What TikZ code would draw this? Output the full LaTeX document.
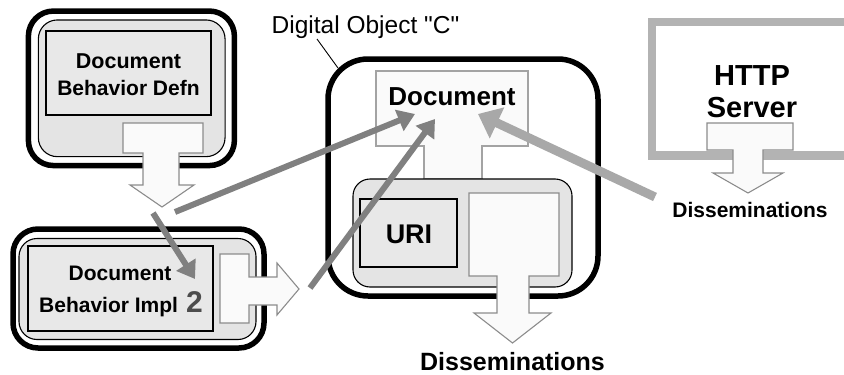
\documentclass[tikz,border=0pt]{standalone}
\usepackage{fontspec}
\setmainfont{Liberation Sans}
\usetikzlibrary{arrows.meta}
\definecolor{panelgray}{HTML}{E4E4E4}
\definecolor{labelgray}{HTML}{E8E8E8}
\definecolor{paper}{HTML}{FAFAFA}
\definecolor{outline}{HTML}{8C8C8C}
\definecolor{linkdark}{HTML}{808080}
\definecolor{linklight}{HTML}{A8A8A8}
\definecolor{servergray}{HTML}{B3B3B3}
\definecolor{digitgray}{HTML}{4D4D4D}

\begin{document}
\begin{tikzpicture}[x=1pt,y=-1pt,
  boxbase/.style={inner sep=0pt, outer sep=0pt},
  ring/.style={boxbase, draw=black, line width=5.5pt, rounded corners=#1},
  panel/.style={boxbase, draw=black, line width=1.1pt, fill=panelgray, rounded corners=#1},
  labelbox/.style={boxbase, draw=black, line width=1.1pt, fill=labelgray},
  blockarrow/.style={draw=outline, line width=1.1pt, fill=paper, line join=miter},
  caption/.style={inner sep=0pt, anchor=base, font=\bfseries\fontsize{#1}{#1}\selectfont},
  plain/.style={inner sep=0pt, anchor=base, font=\fontsize{#1}{#1}\selectfont},
  linkd/.style={draw=linkdark, line width=6pt, -{Triangle[length=17pt,width=22pt]}},
  linkl/.style={draw=linklight, line width=9pt, -{Triangle[length=21pt,width=33pt]}}
]
\useasboundingbox (0,0) rectangle (844,375);

% ---- behaviour definition (top left) ----
\node[ring=25pt, minimum width=206pt, minimum height=154.5pt] (defring) at (131.4,88.3) {};
\node[panel=19pt, minimum width=186.7pt, minimum height=136.7pt] (defpanel) at (131.7,88.3) {};
\node[labelbox, minimum width=165pt, minimum height=84pt] (deflabel) at (128.5,73) {};

% ---- behaviour implementation (bottom left) ----
\node[ring=25pt, minimum width=251pt, minimum height=119pt] (impring) at (138.5,288.5) {};
\node[panel=18pt, minimum width=237pt, minimum height=101pt] (imppanel) at (137.5,289) {};
\node[labelbox, minimum width=185pt, minimum height=85pt] (implabel) at (120.5,288.5) {};

% ---- digital object ----
\node[ring=40pt, minimum width=270pt, minimum height=237pt] (dobj) at (463,177.5) {};
\draw[blockarrow, draw=outline!80] (376,71) -- (528,71) -- (528,146) -- (482,146) -- (482,179)
  -- (424,179) -- (424,146) -- (376,146) -- cycle;
\node[panel=17pt, minimum width=219pt, minimum height=108pt] (uripanel) at (462.5,233) {};
\node[labelbox, minimum width=97pt, minimum height=68pt] (uribox) at (408.5,233) {};
\draw[blockarrow] (469,193) -- (559,193) -- (559,276) -- (529,276) -- (529,313) -- (551,313)
  -- (512.5,343) -- (474,313) -- (497,313) -- (497,276) -- (469,276) -- cycle;

% ---- HTTP server (open to the right) ----
\draw[servergray, line width=8.5pt] (844,22) -- (652,22) -- (652,155.5) -- (844,155.5);
\draw[blockarrow] (707,123) -- (793,123) -- (793,150) -- (763,150) -- (763,173) -- (783,173)
  -- (748,193) -- (713,173) -- (733,173) -- (733,150) -- (707,150) -- cycle;

% ---- block arrows of the left boxes ----
\draw[blockarrow] (123,123) -- (203,123) -- (203,153) -- (179,153) -- (179,185) -- (194,185)
  -- (162,207) -- (130,185) -- (143,185) -- (143,153) -- (123,153) -- cycle;
\draw[blockarrow] (220,254) -- (249,254) -- (249,277) -- (277,277) -- (277,263) -- (299,289)
  -- (277,315) -- (277,305) -- (249,305) -- (249,323) -- (220,323) -- cycle;

% ---- texts ----
\node[caption=21.5pt] (t1) at (128.5,68) {Document};
\node[caption=21pt] (t2) at (128.5,95) {Behavior Defn};
\node[caption=21pt] (t3) at (120,280) {Document};
\node[caption=21pt, anchor=base west] (t4) at (39,312) {Behavior Impl};
\node[caption=30pt, anchor=base west, text=digitgray] (t5) at (186,312) {2};
\node[caption=26pt] (t6) at (452,105) {Document};
\node[caption=27pt] (t7) at (409,243) {URI};
\node[caption=29pt] (t8) at (752,85) {HTTP};
\node[caption=29pt] (t9) at (752,117) {Server};
\node[caption=21pt] (t10) at (750,217) {Disseminations};
\node[caption=25pt] (t11) at (512.5,370) {Disseminations};
\node[plain=24.5pt] (t12) at (365.5,33) {Digital Object \textquotedbl C\textquotedbl};

\coordinate (leadA) at (317,39);
\coordinate (leadB) at (338,68);
\draw[line width=0.9pt] (leadA) -- (leadB);

% ---- links ----
\coordinate (s1) at (175,212);
\coordinate (e1) at (415,114);
\coordinate (s2) at (153,213);
\coordinate (e2) at (195,279);
\coordinate (s3) at (310,288);
\coordinate (e3) at (435,119);
\coordinate (s4) at (655,197);
\coordinate (e4) at (478,114);
\draw[linkd] (s1) -- (e1);
\draw[linkd] (s2) -- (e2);
\draw[linkd] (s3) -- (e3);
\draw[linkl] (s4) -- (e4);
\end{tikzpicture}
\end{document}
